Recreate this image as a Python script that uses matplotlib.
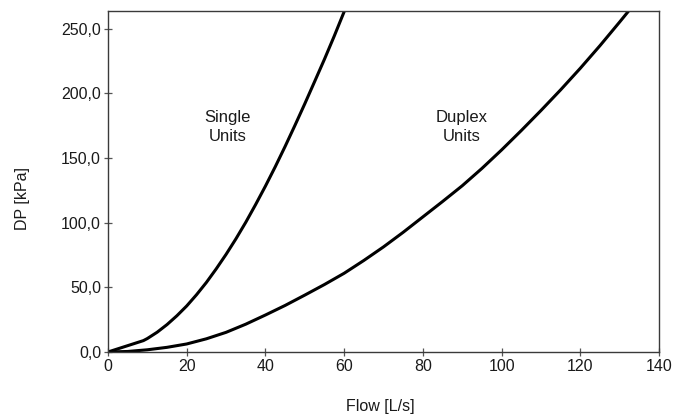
import matplotlib
matplotlib.use("Agg")
import matplotlib.pyplot as plt
from matplotlib.ticker import FuncFormatter

plt.rcParams['font.family'] = ['Liberation Sans', 'DejaVu Sans']

# Pressure drop curves (flow in L/s, DP in kPa)
single_flow = [0, 9, 10, 12.5, 15, 17.5, 20, 22.5, 25, 27.5, 30, 32.5, 35,
               37.5, 40, 42.5, 45, 47.5, 50, 52.5, 55, 57.5, 60.5]
single_dp = [0, 8.8, 10.4, 15.3, 21.2, 28, 35.6, 44.3, 53.8, 64.3, 75.5, 87.5,
             100.3, 114, 128.3, 143.3, 159, 175.3, 192, 209.2, 226.5, 244.5, 267]

duplex_flow = [0, 5, 10, 15, 20, 25, 30, 35, 40, 45, 50, 55, 60, 65, 70, 75,
               80, 85, 90, 95, 100, 105, 110, 115, 120, 125, 130, 133]
duplex_dp = [0, 0.4, 1.7, 3.6, 6.2, 10.2, 15.2, 21.5, 28.6, 36, 44, 52.2, 60.9,
             70.8, 81.3, 92.6, 104.5, 116.4, 128.6, 142, 156.3, 171.3, 186.8,
             202.8, 219.5, 237, 255.3, 266.5]

x_ticks = [0, 20, 40, 60, 80, 100, 120, 140]
y_ticks = [0, 50, 100, 150, 200, 250]

curve_labels = ["Single\nUnits", "Duplex\nUnits"]
label_pos = [(30.3, 174), (89.9, 174)]

fig = plt.figure(figsize=(6.93, 4.17), dpi=100)
ax = fig.add_axes([0.1558, 0.1559, 0.951 - 0.1558, 0.9743 - 0.1559])

ax.plot(single_flow, single_dp, color="black", lw=2.2, solid_joinstyle="round")
ax.plot(duplex_flow, duplex_dp, color="black", lw=2.2, solid_joinstyle="round")

for txt, (lx, ly) in zip(curve_labels, label_pos):
    ax.text(lx, ly, txt, ha="center", va="center", fontsize=12,
            color="#1a1a1a", linespacing=1.3)

ax.set_xlim(0, 140)
ax.set_ylim(0, 264)
ax.set_xticks(x_ticks)
ax.set_yticks(y_ticks)
ax.yaxis.set_major_formatter(FuncFormatter(lambda v, p: f"{v:.1f}".replace(".", ",")))

for s in ax.spines.values():
    s.set_color("#3a3a3a")
    s.set_linewidth(1.0)

ax.tick_params(axis="both", direction="inout", length=6, width=0.9,
               color="#555555", labelsize=11.5, labelcolor="#1a1a1a")
ax.tick_params(axis="x", pad=2)
ax.tick_params(axis="y", pad=2)

ax.set_xlabel("Flow [L/s]", fontsize=11.5, color="#1a1a1a")
ax.set_ylabel("DP [kPa]", fontsize=11.5, color="#1a1a1a")
ax.xaxis.set_label_coords(0.495, -0.138)
ax.yaxis.set_label_coords(-0.1416, 0.451)

fig.savefig("out.png", dpi=100, facecolor="white")
